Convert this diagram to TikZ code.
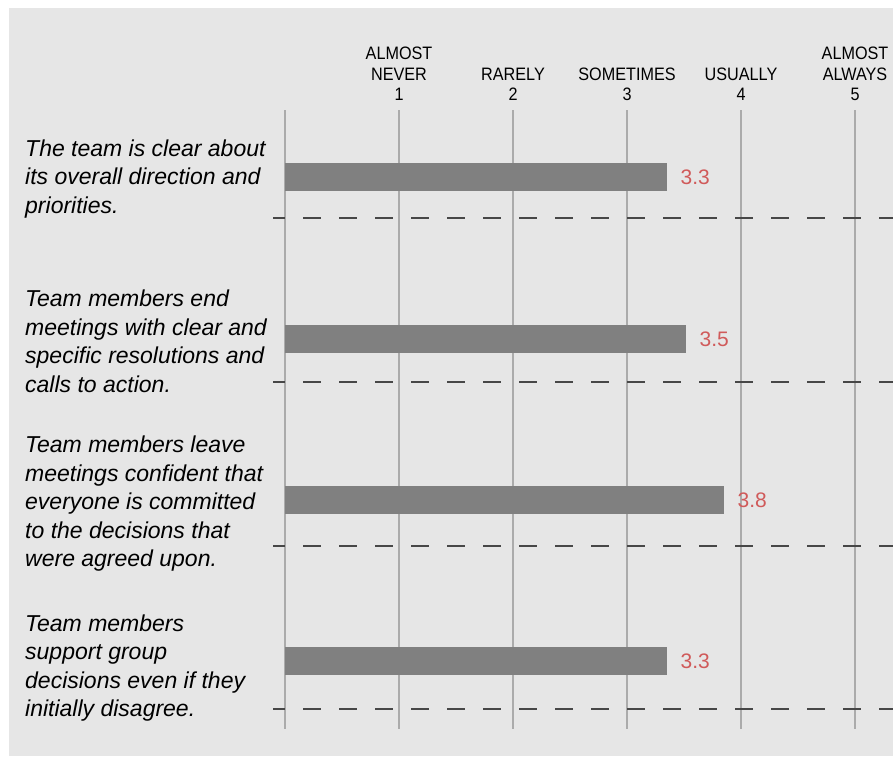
\documentclass[tikz,border=0pt]{standalone}
\usepackage{fontspec}
\setmainfont{Liberation Sans}
\newfontfamily\headfont[FakeStretch=0.9]{Liberation Sans}
\usetikzlibrary{positioning,calc}
\definecolor{panel}{HTML}{E6E6E6}
\definecolor{gridgray}{HTML}{ABABAB}
\definecolor{bargray}{HTML}{808080}
\definecolor{dashgray}{HTML}{474747}
\definecolor{scorered}{HTML}{D05A5A}

\begin{document}
\begin{tikzpicture}[x=1pt, y=-1pt,
    head/.style={font=\headfont\fontsize{18}{20.5}\selectfont, align=center, anchor=south, inner sep=0pt},
    item/.style={font=\fontsize{23}{28.5}\selectfont\itshape, align=left, anchor=west, inner sep=0pt},
    bar/.style={fill=bargray, draw=none, anchor=west, minimum height=28pt, inner sep=0pt},
    score/.style={font=\fontsize{21}{24}\selectfont, text=scorered, inner sep=0pt},
    gridline/.style={draw=gridgray, line width=1.6pt},
    divider/.style={draw=dashgray, line width=2.2pt, dash pattern=on 18pt off 18pt, dash phase=6pt}
]
    \useasboundingbox (0,0) rectangle (893,756);
    \fill[white] (0,0) rectangle (893,756);
    \fill[panel] (9,8) rectangle (893,756);

    % Scale
    \foreach \x in {285,399,513,627,741,855}
        \draw[gridline] (\x,110) -- (\x,729);
    \foreach \v/\lbl in {1/{ALMOST\\NEVER}, 2/RARELY, 3/SOMETIMES, 4/USUALLY, 5/{ALMOST\\ALWAYS}}
        \node[head] (head\v) at (285+114*\v,101) {\lbl\\\v};

    % Items
    \node[item] (item1) at (25,179) {The team is clear about\\its overall direction and\\priorities.};
    \node[item] (item2) at (25,341.5) {Team members end\\meetings with clear and\\specific resolutions and\\calls to action.};
    \node[item] (item3) at (25,504) {Team members leave\\meetings confident that\\everyone is committed\\to the decisions that\\were agreed upon.};
    \node[item] (item4) at (25,668) {Team members\\support group\\decisions even if they\\initially disagree.};

    % Bars
    \foreach \i/\e/\y/\val in {1/667/177/3.3, 2/686/339/3.5, 3/724/500/3.8, 4/667/661/3.3} {
        \node[bar, minimum width=\e-285] (bar\i) at (285,\y) {};
        \node[score, right=13pt of bar\i] (score\i) {\val};
    }

    % Dividers
    \foreach \y in {218,382,546,709}
        \draw[divider] (273,\y) -- (893,\y);
\end{tikzpicture}
\end{document}
